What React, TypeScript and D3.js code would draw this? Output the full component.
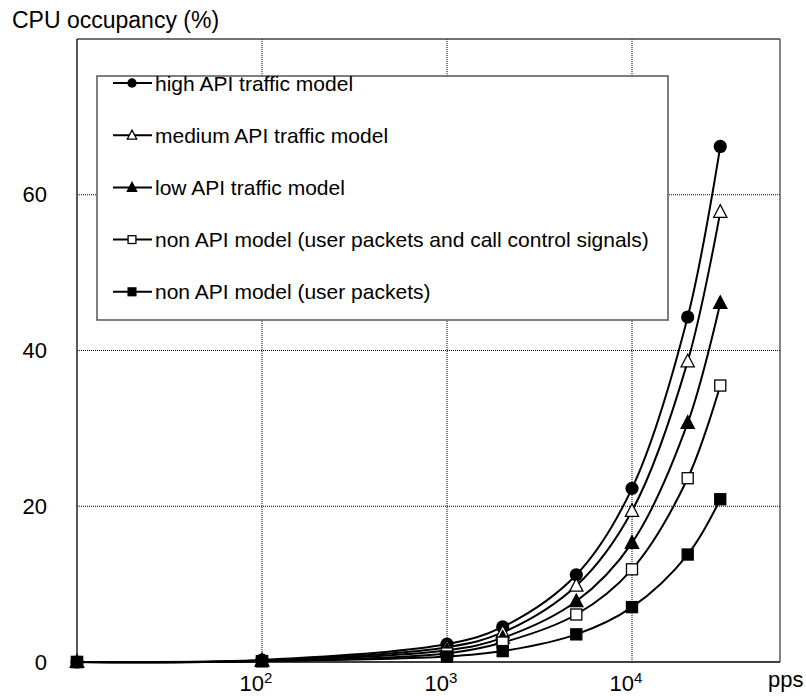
import React from "react";
import * as d3 from "d3";

const ppsValues = [10, 100, 1000, 2000, 5000, 10000, 20000, 30000];
const seriesNames = [
  "high API traffic model",
  "medium API traffic model",
  "low API traffic model",
  "non API model (user packets and call control signals)",
  "non API model (user packets)",
];
const highValues = [0, 0.25, 2.3, 4.5, 11.2, 22.3, 44.3, 66.2];
const mediumValues = [0, 0.2, 1.9, 3.8, 9.8, 19.4, 38.6, 57.8];
const lowValues = [0, 0.15, 1.5, 3.1, 7.8, 15.3, 30.7, 46.1];
const nonApiCtrlValues = [0, 0.12, 1.1, 2.5, 6.1, 11.9, 23.6, 35.5];
const nonApiUserValues = [0, 0.1, 0.7, 1.4, 3.55, 7.05, 13.8, 20.9];
const markerKinds = ["circle", "triangleOpen", "triangle", "squareOpen", "square"];
const yTicks = [0, 20, 40, 60];
const xTickExps = [2, 3, 4];

const allSeries = [highValues, mediumValues, lowValues, nonApiCtrlValues, nonApiUserValues];

function Marker({ kind, x, y, s }: { kind: string; x: number; y: number; s: number }) {
  if (kind === "circle") return <circle cx={x} cy={y} r={s * 0.55} fill="#000" />;
  if (kind === "triangle" || kind === "triangleOpen") {
    const h = s * 1.0;
    const w = s * 1.1;
    const pts = `${x},${y - h * 0.6} ${x - w / 2},${y + h * 0.45} ${x + w / 2},${y + h * 0.45}`;
    return (
      <polygon
        points={pts}
        fill={kind === "triangle" ? "#000" : "#fff"}
        stroke="#000"
        strokeWidth={1.3}
      />
    );
  }
  const a = s * 0.92;
  return (
    <rect
      x={x - a / 2}
      y={y - a / 2}
      width={a}
      height={a}
      fill={kind === "square" ? "#000" : "#fff"}
      stroke="#000"
      strokeWidth={1.3}
    />
  );
}

export default function App() {
  const W = 806;
  const H = 696;
  const left = 77,
    right = 780,
    top = 39,
    bottom = 662;
  const x = d3.scaleLog().domain([10, Math.pow(10, 4.8)]).range([left, right]);
  const y = d3.scaleLinear().domain([0, 80]).range([bottom, top]);
  const line = d3
    .line<number>()
    .x((_, i) => x(ppsValues[i]))
    .y((d) => y(d))
    .curve(d3.curveCatmullRom.alpha(0.5));
  const font = "Arial, 'Liberation Sans', Helvetica, sans-serif";

  const legX = 97,
    legY = 76,
    legW = 571,
    legH = 244;
  const rowY0 = 83,
    rowStep = 52.2;

  return (
    <svg
      width={W}
      height={H}
      style={{ position: "absolute", left: 0, top: 0, background: "#fff" }}
      fontFamily={font}
    >
      <rect x={0} y={0} width={W} height={H} fill="#fff" />
      {/* gridlines */}
      {xTickExps.map((e) => (
        <line
          key={"gx" + e}
          x1={x(Math.pow(10, e))}
          x2={x(Math.pow(10, e))}
          y1={top}
          y2={bottom}
          stroke="#000"
          strokeWidth={1}
          strokeDasharray="1 1"
        />
      ))}
      {yTicks
        .filter((t) => t > 0)
        .map((t) => (
          <line
            key={"gy" + t}
            x1={left}
            x2={right}
            y1={y(t)}
            y2={y(t)}
            stroke="#000"
            strokeWidth={1}
            strokeDasharray="1 1"
          />
        ))}
      {/* frame */}
      <line x1={left} x2={right} y1={top} y2={top} stroke="#444" strokeWidth={1.3} />
      <line x1={right} x2={right} y1={top} y2={bottom} stroke="#444" strokeWidth={1.3} />
      <line x1={left} x2={left} y1={top} y2={bottom} stroke="#000" strokeWidth={1.3} />
      <line x1={left} x2={right} y1={bottom} y2={bottom} stroke="#000" strokeWidth={1.3} />

      {/* y tick labels */}
      {yTicks.map((t) => (
        <text key={"yl" + t} x={47} y={y(t) + 7.5} textAnchor="end" fontSize={22} fill="#000">
          {t}
        </text>
      ))}
      {/* x tick labels */}
      {xTickExps.map((e) => (
        <text key={"xl" + e} x={x(Math.pow(10, e)) - 6} y={691} textAnchor="middle" fontSize={22} fill="#000">
          10
          <tspan fontSize={15} dy={-8}>
            {e}
          </tspan>
        </text>
      ))}
      <text x={768} y={687} fontSize={22} fill="#000">
        pps
      </text>
      <text x={12} y={28} fontSize={23} fill="#000">
        CPU occupancy (%)
      </text>

      {/* legend */}
      <rect x={legX} y={legY} width={legW} height={legH} fill="#fff" stroke="#555" strokeWidth={1.5} />
      {seriesNames.map((n, i) => {
        const cy = rowY0 + rowStep * i;
        return (
          <g key={"lg" + i}>
            <line x1={113} x2={152} y1={cy} y2={cy} stroke="#000" strokeWidth={2} />
            <Marker kind={markerKinds[i]} x={132} y={cy} s={8.5} />
            <text x={155} y={cy + 7.5} fontSize={21} fill="#000">
              {n}
            </text>
          </g>
        );
      })}

      {/* series */}
      {allSeries.map((vals, i) => (
        <g key={"s" + i}>
          <path d={line(vals) || ""} fill="none" stroke="#000" strokeWidth={2} />
          {vals.map((v, j) => (
            <Marker key={j} kind={markerKinds[i]} x={x(ppsValues[j])} y={y(v)} s={12} />
          ))}
        </g>
      ))}
    </svg>
  );
}
